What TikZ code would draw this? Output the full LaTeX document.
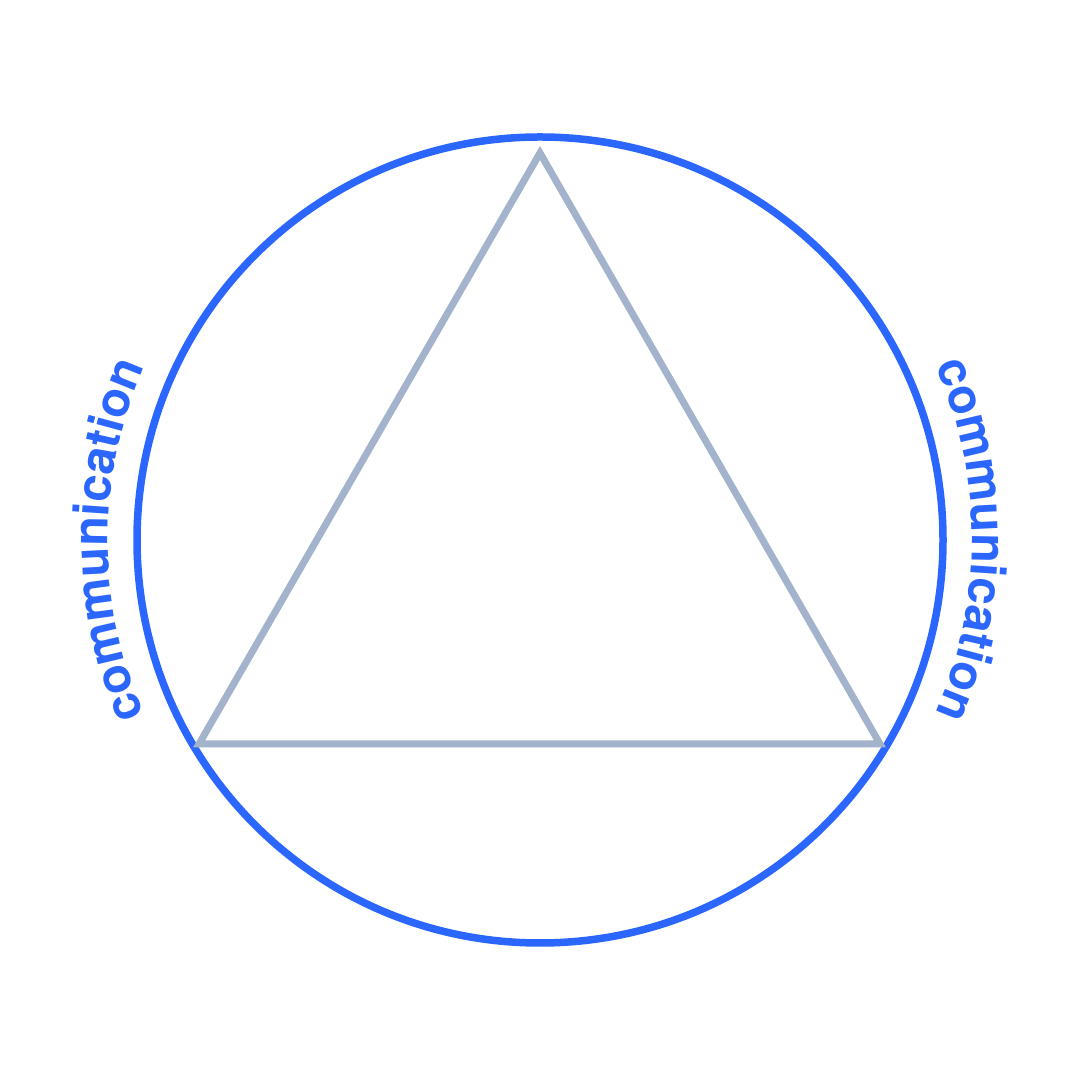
\documentclass[tikz,border=0pt]{standalone}
\usepackage{fontspec}
\usetikzlibrary{decorations.text}
\newfontfamily\lblfont{TeX Gyre Heros}
\definecolor{cblue}{HTML}{2B66FF}
\definecolor{cgray}{HTML}{A3B3CC}
\tikzset{
  ring/.style={draw=cblue, line width=0.075cm},
  tri/.style={draw=cgray, line width=0.07cm, line join=miter},
  arclabel/.style={decorate, decoration={text along path, text align=center,
     text={|\lblfont\bfseries\fontsize{13.8pt}{16pt}\selectfont\color{cblue}|communication}}}
}
\begin{document}
\begin{tikzpicture}
\useasboundingbox (0,0) rectangle (10.8,10.8);
\fill[white] (0,0) rectangle (10.8,10.8);
\coordinate (O) at (5.40,5.40);
\coordinate (A) at (5.40,9.27);
\coordinate (B) at (1.99,3.36);
\coordinate (C) at (8.80,3.36);
\draw[ring] (O) circle[radius=4.03];
\draw[tri] (A) -- (B) -- (C) -- cycle;
\path[arclabel] (O) ++(215:4.32) arc[start angle=215, end angle=145, radius=4.32];
\path[arclabel] (O) ++(35:4.32) arc[start angle=35, end angle=-35, radius=4.32];
\end{tikzpicture}
\end{document}
